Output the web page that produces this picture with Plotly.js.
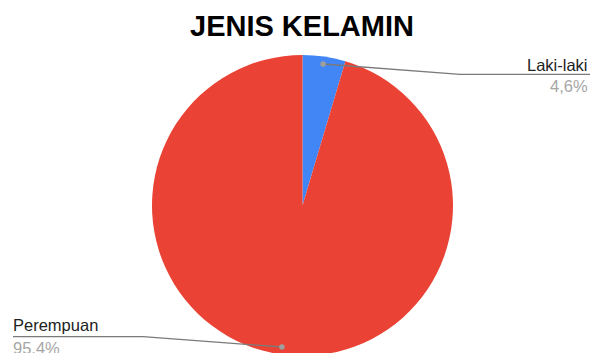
<!DOCTYPE html>
<html><head><meta charset="utf-8">
<script src="https://cdn.plot.ly/plotly-3.0.1.min.js"></script>
<style>html,body{margin:0;padding:0;overflow:hidden;background:#fff}#chart{width:594px;height:360px}</style>
</head><body><div id="chart"></div>
<script>
const categories = ["Laki-laki", "Perempuan"];
const values = [4.6, 95.4];
const pctLabels = ["4,6%", "95.4%"];
const colors = ["#4285F4", "#EA4335"];

const W = 594, H = 360;
const cx = 302.5, cy = 205.5, r = 150.5;
const px = x => x / W;
const py = y => (H - y) / H;

const total = values.reduce((a, b) => a + b, 0);
let cum = 0;
const dots = values.map(v => {
  const mid = (cum + v / 2) / total;
  cum += v;
  const th = mid * 2 * Math.PI;
  return [cx + 0.95 * r * Math.sin(th), cy - 0.95 * r * Math.cos(th)];
});

// label layout: [elbowX, lineY, endX, textX, anchor, nameY, pctY]
const labelLayout = [
  [460, 74.3, 590, 589, "right", 64.5, 86],
  [143, 336.7, 13, 12, "left", 324.5, 347.5]
];

const shapes = [], annotations = [];
const lineColor = "#7a7a7a";
dots.forEach((d, i) => {
  const L = labelLayout[i];
  shapes.push({type: "line", xref: "paper", yref: "paper", x0: px(d[0]), y0: py(d[1]), x1: px(L[0]), y1: py(L[1]), line: {color: lineColor, width: 1.3}});
  shapes.push({type: "line", xref: "paper", yref: "paper", x0: px(L[0]), y0: py(L[1]), x1: px(L[2]), y1: py(L[1]), line: {color: lineColor, width: 1.3}});
  shapes.push({type: "circle", xref: "paper", yref: "paper", x0: px(d[0] - 2.8), x1: px(d[0] + 2.8), y0: py(d[1] + 2.8), y1: py(d[1] - 2.8), fillcolor: "#9e9e9e", line: {width: 0}});
  annotations.push({xref: "paper", yref: "paper", x: px(L[3]), y: py(L[5]), xanchor: L[4], yanchor: "middle", text: categories[i], showarrow: false, borderpad: 0, font: {family: "Liberation Sans, Arial, sans-serif", size: 16.5, color: "#222222"}});
  annotations.push({xref: "paper", yref: "paper", x: px(L[3]), y: py(L[6]), xanchor: L[4], yanchor: "middle", text: pctLabels[i], showarrow: false, borderpad: 0, font: {family: "Liberation Sans, Arial, sans-serif", size: 16.5, color: "#a6a6a6"}});
});

annotations.push({xref: "paper", yref: "paper", x: px(302), y: py(26.5), xanchor: "center", yanchor: "middle", text: "<b>JENIS KELAMIN</b>", showarrow: false, borderpad: 0, font: {family: "Liberation Sans, Arial, sans-serif", size: 29, color: "#000000"}});

Plotly.newPlot("chart", [{
  type: "pie",
  labels: categories,
  values: values,
  sort: false,
  direction: "clockwise",
  rotation: 0,
  textinfo: "none",
  hoverinfo: "label+percent",
  marker: {colors: colors, line: {width: 0}},
  domain: {x: [px(cx - r), px(cx + r)], y: [py(cy + r), py(cy - r)]}
}], {
  width: W, height: H,
  margin: {l: 0, r: 0, t: 0, b: 0},
  showlegend: false,
  paper_bgcolor: "#ffffff",
  shapes: shapes,
  annotations: annotations
}, {staticPlot: true});
</script></body></html>
